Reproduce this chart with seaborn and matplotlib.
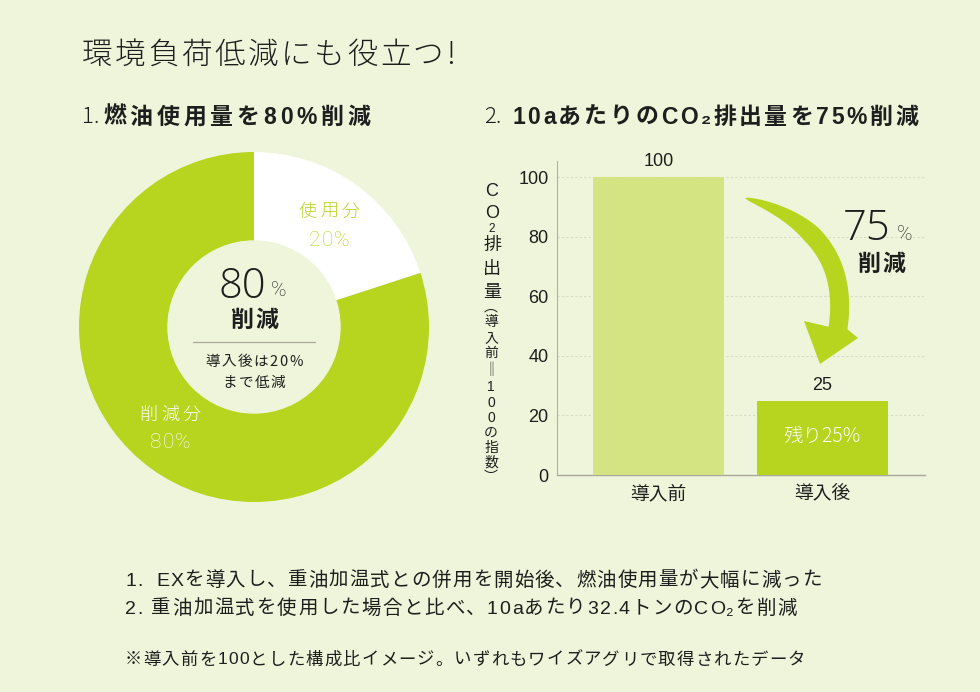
import numpy as np
import pandas as pd
import matplotlib
matplotlib.use("Agg")
import matplotlib.pyplot as plt
import seaborn as sns
from matplotlib.patches import Circle, Polygon
from matplotlib.lines import Line2D

# ---- data ----
pie_labels = ["使用分", "削減分"]
pie_values = [20, 80]
bar_categories = ["導入前", "導入後"]
bar_values = [100, 25]
y_ticks = [0, 20, 40, 60, 80, 100]

BG = "#EFF5DA"
GREEN = "#B7D41E"
LIGHT = "#D4E483"
TXT = "#1E1E1E"
JP = ["Noto Sans CJK JP", "DejaVu Sans"]
LAT = ["Liberation Sans", "Noto Sans CJK JP", "DejaVu Sans"]
THIN = ["Roboto", "Noto Sans CJK JP", "DejaVu Sans"]
WIDE = ["Open Sans", "Noto Sans CJK JP", "DejaVu Sans"]

sns.set_theme(style="white")
plt.rcParams["font.family"] = LAT
plt.rcParams["text.color"] = TXT

W, H = 980, 692
fig = plt.figure(figsize=(W / 100, H / 100), dpi=100, facecolor=BG)
renderer = fig.canvas.get_renderer()


def fx(x):
    return x / W


def fy(y):
    return 1 - y / H


def ftext(x, y, s, size, weight="normal", color=TXT, ha="left", va="center", family=LAT, **kw):
    return fig.text(fx(x), fy(y), s, fontsize=size, fontweight=weight, color=color,
                    ha=ha, va=va, family=family, **kw)


def _w(s, size, weight, family):
    if s == "":
        return 0.0
    t = fig.text(0, 0, s, fontsize=size, fontweight=weight, family=family)
    w = t.get_window_extent(renderer).width
    t.remove()
    return w


def spaced(x0, y, s, size, weight="normal", color=TXT, family=LAT, x1=None, track=0.0, ha="left"):
    n = len(s)
    offs = []
    for i, ch in enumerate(s):
        offs.append(_w(s[: i + 1], size, weight, family) - _w(ch, size, weight, family))
    natural = _w(s, size, weight, family)
    if x1 is not None and n > 1:
        track = (x1 - x0 - natural) / (n - 1)
    total = natural + track * (n - 1)
    start = x0 if ha == "left" else x0 - total / 2
    for i, ch in enumerate(s):
        if ch == " ":
            continue
        ftext(start + offs[i] + i * track, y, ch, size, weight=weight, color=color, family=family)


# ---- headings ----
spaced(82, 55, "環境負荷低減にも役立つ!", 22, weight="light", family=JP, x1=455)
ftext(82, 117, "1.", 16, weight="light", family=JP)
spaced(103, 117, "燃油使用量を80%削減", 16.5, weight="bold", x1=370)
ftext(484, 117, "2.", 16, weight="light", family=JP)
spaced(512, 117, "10aあたりのCO₂排出量を75%削減", 16.5, weight="bold", x1=918)

# ---- donut ----
cx, cy, R = 254, 327, 175
axp = fig.add_axes([fx(cx - R), fy(cy + R), 2 * R / W, 2 * R / H])
axp.set_facecolor(BG)
axp.pie(pie_values, colors=["white", GREEN], startangle=90, counterclock=False,
        radius=1, wedgeprops=dict(linewidth=0))
axp.add_patch(Circle((0, 0), 86 / R, color=BG, zorder=5))
axp.set_xlim(-1, 1)
axp.set_ylim(-1, 1)
axp.set_aspect("auto")
axp.axis("off")

spaced(329, 212, pie_labels[0], 13, color=GREEN, family=JP, weight="light", track=3, ha="center")
spaced(329, 240, f"{pie_values[0]}%", 15, color=GREEN, family=THIN, weight="light", track=0.8, ha="center")
spaced(170, 415, pie_labels[1], 13, color="white", family=JP, weight="light", track=3, ha="center")
spaced(170, 443, f"{pie_values[1]}%", 15, color="white", family=THIN, weight="light", track=0.8, ha="center")

ftext(242, 287, "80", 30, ha="center", weight="light", family=WIDE)
ftext(279, 291, "%", 15, ha="center", weight="light", family=THIN)
spaced(254, 320, "削減", 16.5, weight="bold", family=JP, track=2, ha="center")
fig.add_artist(Line2D([fx(193), fx(315)], [fy(342), fy(342)], color="#A8A8A0", lw=0.9))
spaced(254, 362, "導入後は20%", 10.5, family=JP, track=1.5, ha="center")
spaced(254, 383, "まで低減", 10.5, family=JP, track=1.5, ha="center")

# ---- bar chart ----
left, right, bottom, top = 557, 925, 475, 161
axb = fig.add_axes([fx(left), fy(bottom), (right - left) / W, (bottom - top) / H])
axb.set_facecolor(BG)
df = pd.DataFrame({"cat": bar_categories, "val": bar_values})
sns.barplot(data=df, x="cat", y="val", hue="cat", palette=[LIGHT, GREEN],
            width=0.8, legend=False, ax=axb, saturation=1, zorder=3, linewidth=0)
axb.set_xlim(-0.62, 1.625)
axb.set_ylim(0, 105.4)
axb.set_yticks(y_ticks)
axb.set_yticklabels([str(t) for t in y_ticks], fontsize=13, family=LAT)
axb.set_xticks(range(len(bar_categories)))
axb.set_xticklabels(bar_categories, fontsize=13.5, family=JP)
axb.tick_params(axis="both", length=0, pad=6, colors=TXT)
axb.tick_params(axis="x", pad=6)
axb.set_xlabel("")
axb.set_ylabel("")
for t in y_ticks[1:]:
    axb.axhline(t, color="#D6DBC8", lw=0.8, ls=(0, (2, 2)), zorder=1)
for s in ["top", "right"]:
    axb.spines[s].set_visible(False)
axb.spines["left"].set_color("#B0B0A8")
axb.spines["bottom"].set_color("#A8A8A0")
axb.spines["left"].set_linewidth(0.8)
axb.spines["bottom"].set_linewidth(1.0)

for i, v in enumerate(bar_values):
    axb.annotate(str(v), (i, v), xytext=(0, 5), textcoords="offset points",
                 ha="center", va="bottom", fontsize=13, family=LAT, color=TXT)
axb.text(1, bar_values[1] / 2 + 0.3, "残り25%", ha="center", va="center",
         fontsize=14, color="white", family=JP, weight="light")

# vertical y label (stacked characters)
big = [("C", 192, 13), ("O", 213, 13), ("2", 229, 8.5), ("排", 245, 13), ("出", 269, 13), ("量", 292, 13)]
for ch, y, sz in big:
    ftext(492, y, ch, sz, ha="center", family=LAT if ch in "CO2" else JP)
small = [("︵", 307), ("導", 322), ("入", 338), ("前", 353), ("‖", 370), ("1", 387),
         ("0", 403), ("0", 418), ("の", 433), ("指", 448), ("数", 463), ("︶", 477)]
for ch, y in small:
    ftext(491, y, ch, 10, ha="center", family=LAT if ch in "10" else JP)

# curved arrow (decoration)
t = np.linspace(0, 1, 80)
P0 = np.array([745, 198])
P1 = np.array([852, 230])
P2 = np.array([838, 328])
pts = ((1 - t) ** 2)[:, None] * P0 + (2 * (1 - t) * t)[:, None] * P1 + (t ** 2)[:, None] * P2
d = np.gradient(pts, axis=0)
n = np.stack([-d[:, 1], d[:, 0]], axis=1)
n /= np.linalg.norm(n, axis=1)[:, None]
wdt = 9.5 * np.clip(t / 0.4, 0, 1) ** 0.6
outer = pts - n * wdt[:, None]
inner = pts + n * wdt[:, None]
head = np.array([[858, 338], [820, 364], [804, 321]])
poly = np.vstack([outer, head, inner[::-1]])
fig.add_artist(Polygon(np.column_stack([poly[:, 0] / W, 1 - poly[:, 1] / H]),
                       closed=True, facecolor=GREEN, edgecolor="none",
                       transform=fig.transFigure))

ftext(867, 229, "75", 30, ha="center", weight="light", family=WIDE)
ftext(905, 235, "%", 15, ha="center", weight="light", family=THIN)
spaced(881, 264, "削減", 16.5, weight="bold", family=JP, track=2, ha="center")

# ---- notes ----
spaced(125, 581, "1.  EXを導入し、重油加温式との併用を開始後、燃油使用量が大幅に減った", 14, family=LAT, x1=822)
spaced(125, 609, "2. 重油加温式を使用した場合と比べ、10aあたり32.4トンのCO₂を削減", 14, family=LAT, x1=797)
spaced(125, 660, "※導入前を100とした構成比イメージ。いずれもワイズアグリで取得されたデータ", 12.5, family=LAT, x1=805)

fig.savefig("out.png", dpi=100, facecolor=BG)
